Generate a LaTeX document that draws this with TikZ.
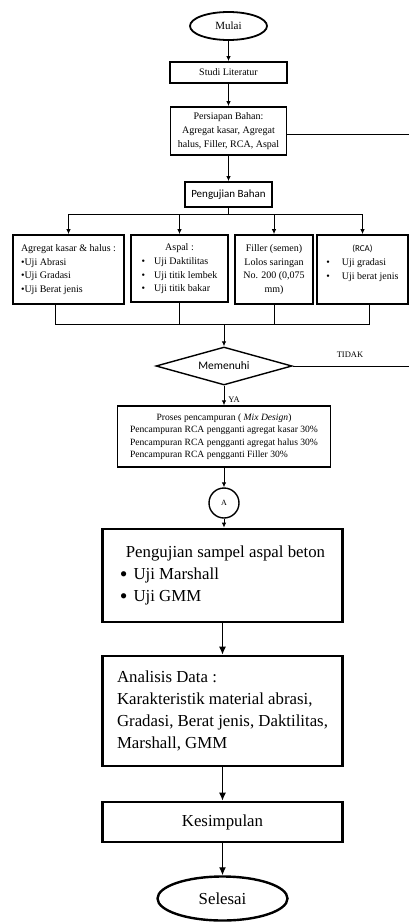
\documentclass[tikz,border=0pt]{standalone}
\usepackage{fontspec}
\setmainfont{Liberation Serif}
\newfontfamily\calibri{Carlito}
\usetikzlibrary{shapes.geometric}
\usetikzlibrary{arrows.meta}

\begin{document}
\begin{tikzpicture}[x=1pt,y=-1pt,
    kotak/.style={draw, line width=1.8pt, inner sep=0pt, align=center, font=\fontsize{10}{13.7}\selectfont},
    kotakbesar/.style={draw, line width=2.6pt, inner sep=0pt, align=left, font=\fontsize{16.8}{22.3}\selectfont},
    garis/.style={line width=0.9pt},
    panah/.style={garis, -{Latex[length=5pt,width=4.5pt]}},
    panahbesar/.style={line width=1.3pt, -{Latex[length=8pt,width=7pt]}}]
                % page
                \useasboundingbox (0,0) rectangle (409,923);
                % top part
                \node[draw, ellipse, line width=1.8pt, minimum width=77pt, minimum height=28pt, inner sep=0pt, font=\fontsize{11}{13}\selectfont] (mulai) at (228.5,26) {Mulai};
                \node[kotak, minimum width=117pt, minimum height=21pt] (studi) at (228.5,72.5) {Studi Literatur};
                \node[kotak, minimum width=116pt, minimum height=48pt] (persiapan) at (228.5,131) {Persiapan Bahan:\\Agregat kasar, Agregat\\halus, Filler, RCA, Aspal};
                \node[kotak, minimum width=87pt, minimum height=25pt, font=\calibri\fontsize{11}{13}\selectfont] (uji) at (228.5,194.5) {Pengujian Bahan};
                \draw[panah] (mulai) -- (studi);
                \draw[panah] (studi) -- (persiapan);
                \draw[panah] (persiapan) -- (uji);
                % four tests
                \node[kotak, align=left, minimum width=111pt, minimum height=69pt] (agregat) at (68.5,269.5) {Agregat kasar \& halus :\\\textbullet Uji Abrasi\\\textbullet Uji Gradasi\\\textbullet Uji Berat jenis};
                \node[kotak, minimum width=97pt, minimum height=67pt] (aspal) at (179.5,268.5) {\begin{tabular}{@{}c@{\hspace{9pt}}l@{}}\multicolumn{2}{c}{Aspal :}\\\textbullet & Uji Daktilitas\\\textbullet & Uji titik lembek\\\textbullet & Uji titik bakar\end{tabular}};
                \node[kotak, minimum width=78pt, minimum height=69pt] (filler) at (274,269.5) {Filler (semen)\\Lolos saringan\\No. 200 (0,075\\mm)};
                \node[kotak, minimum width=91pt, minimum height=69pt] (rca) at (362.5,269.5) {\begin{tabular}{@{}c@{\hspace{12pt}}l@{}}\multicolumn{2}{c}{\calibri\fontsize{9}{11}\selectfont (RCA)}\\\textbullet & Uji gradasi\\\textbullet & Uji berat jenis\\ & \end{tabular}};
                \coordinate (cabang) at (228.5,214);
                \draw[garis] (uji) -- (cabang);
                \draw[garis] (agregat.north |- cabang) -- (rca.north |- cabang);
                \foreach \k in {agregat,aspal,filler,rca}{\draw[panah] (\k.north |- cabang) -- (\k.north);}
                % gather
                \coordinate (gabung) at (224,324);
                \draw[garis] ([xshift=-13pt]agregat.south) |- (gabung);
                \draw[garis] ([xshift=7pt]rca.south) |- (gabung);
                \draw[garis] (aspal.south) -- (aspal.south |- gabung);
                \draw[garis] (filler.south) -- (filler.south |- gabung);
                % decision
                \node[draw, diamond, aspect=3.6, line width=1.4pt, minimum width=136pt, minimum height=38pt, inner sep=0pt, font=\calibri\fontsize{11.5}{13}\selectfont] (memenuhi) at (224,366) {Memenuhi};
                \draw[panah] (gabung) -- (memenuhi);
                \coordinate (tepiA) at (409,134);
                \coordinate (tepiB) at (409,366);
                \draw[garis] (memenuhi.east) -- (tepiB);
                \draw[garis] (persiapan.east |- tepiA) -- (tepiA);
                \node[font=\fontsize{8.5}{10}\selectfont] (tidak) at (350,355) {TIDAK};
                % mixing
                \node[kotak, line width=1.4pt, minimum width=213pt, minimum height=61pt, font=\fontsize{9.6}{12.3}\selectfont] (proses) at (224,436.5) {\begin{tabular}{@{}l@{}}\multicolumn{1}{c}{Proses pencampuran ( \textit{Mix Design})}\\Pencampuran RCA pengganti agregat kasar 30\%\\Pencampuran RCA pengganti agregat halus 30\%\\Pencampuran RCA pengganti Filler 30\%\end{tabular}};
                \draw[panah] (memenuhi.south) -- node[right, pos=0.7, inner sep=4pt, font=\fontsize{8.5}{10}\selectfont] (ya) {YA} (proses.north);
                \node[draw, circle, line width=1.4pt, minimum size=30pt, inner sep=0pt, font=\fontsize{8}{9}\selectfont] (A) at (224,503) {A};
                \draw[panah] (proses) -- (A);
                % bottom part
                \node[kotakbesar, minimum width=240pt, minimum height=93pt] (sampel) at (222.5,575.5) {\hspace*{6pt}Pengujian sampel aspal beton\\\raisebox{-1.8pt}{\scalebox{1.3}{\textbullet}}\hspace{6pt}Uji Marshall\\\raisebox{-1.8pt}{\scalebox{1.3}{\textbullet}}\hspace{6pt}Uji GMM};
                \node[kotakbesar, minimum width=240pt, minimum height=110pt] (analisis) at (222.5,711) {Analisis Data :\\Karakteristik material abrasi,\\Gradasi, Berat jenis, Daktilitas,\\Marshall, GMM};
                \node[kotakbesar, minimum width=240pt, minimum height=40pt] (kesimpulan) at (222.5,822) {Kesimpulan};
                \node[draw, ellipse, line width=2.4pt, minimum width=130pt, minimum height=44pt, inner sep=0pt, font=\fontsize{16.8}{20}\selectfont] (selesai) at (222.5,898.5) {Selesai};
                \draw[panah] (A.south) -- (A.south |- sampel.north);
                \draw[panahbesar] (sampel) -- (analisis);
                \draw[panahbesar] (analisis) -- (kesimpulan);
                \draw[panahbesar] (kesimpulan) -- (selesai);
\end{tikzpicture}
\end{document}
